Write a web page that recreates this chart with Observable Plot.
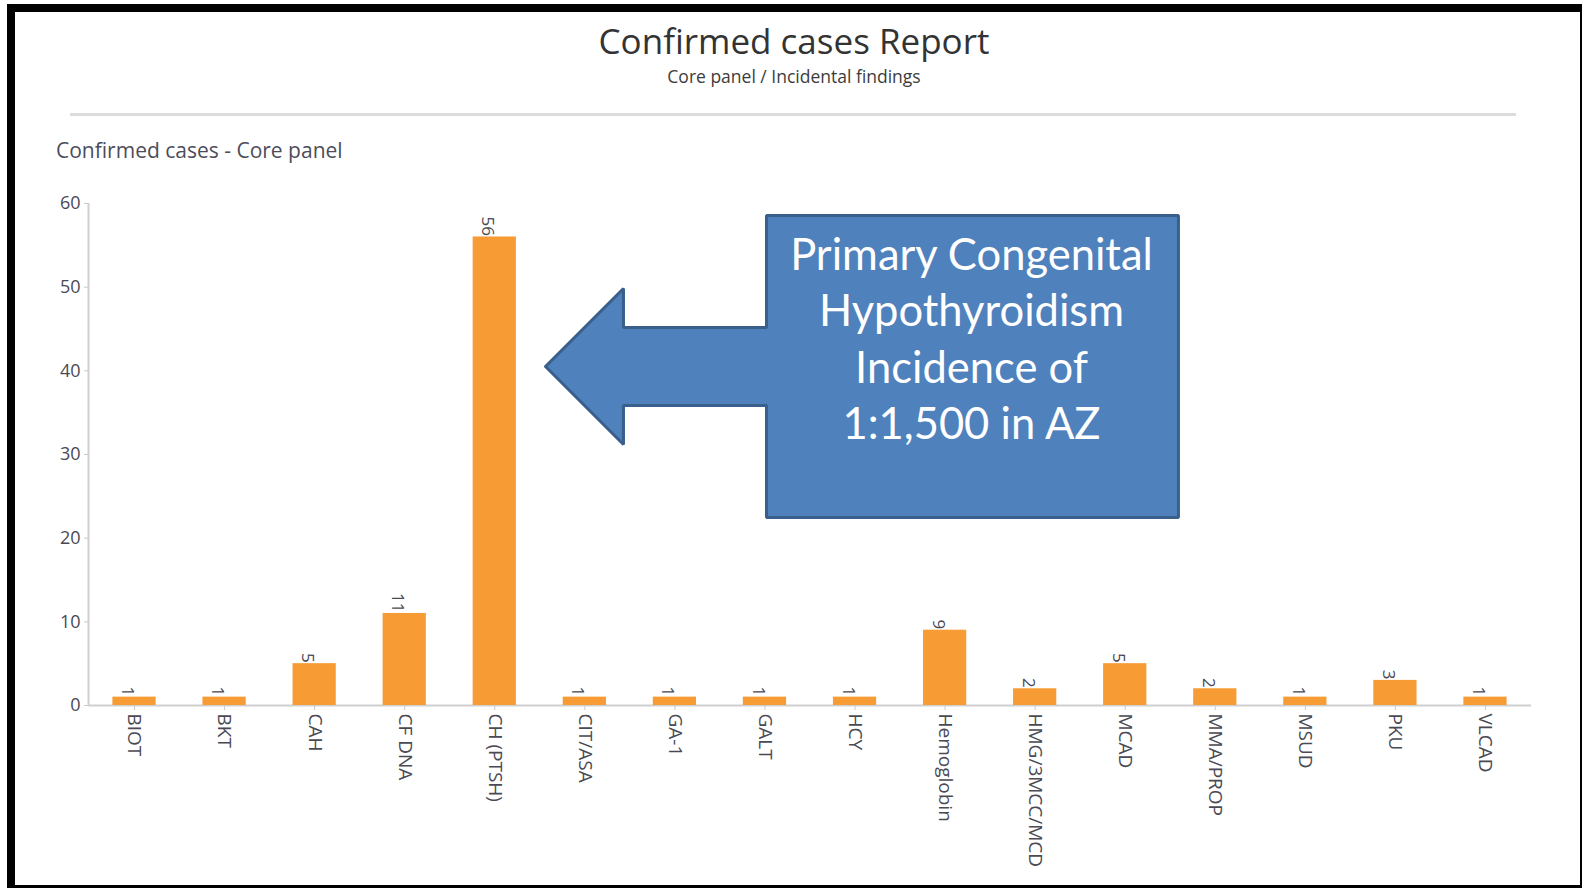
<!DOCTYPE html>
<html><head><meta charset="utf-8">
<script src="https://cdn.jsdelivr.net/npm/d3@7"></script>
<script src="https://cdn.jsdelivr.net/npm/@observablehq/plot@0.6"></script>
<style>
html,body{margin:0;padding:0;background:#fff;}
#page{position:relative;width:1584px;height:890px;overflow:hidden;font-family:"Open Sans",sans-serif;}
#frame{position:absolute;left:7px;top:4px;width:1575px;height:884px;box-sizing:border-box;border-style:solid;border-color:#000;border-width:8px 2px 3px 8px;z-index:3;pointer-events:none;}
#title{position:absolute;left:0;width:1588px;top:19px;line-height:44px;font-size:35px;text-align:center;color:#333;z-index:2;}
#subtitle{position:absolute;left:0;width:1588px;top:65px;line-height:22px;font-size:17.5px;text-align:center;color:#3c3c3c;z-index:2;}
#rule{position:absolute;left:70px;top:113px;width:1446px;height:3px;background:#dcdcdc;z-index:2;}
#heading{position:absolute;left:56px;top:137px;line-height:26px;font-size:21px;color:#4d4d5a;z-index:2;}
#chart{position:absolute;left:0;top:0;z-index:1;}
#chart g[aria-label^="x-axis"] text{font-size:19px;}
#chart g[aria-label^="y-axis"] text{font-size:18px;}
#chart g[aria-label^="x-axis"] line,#chart g[aria-label^="y-axis"] line,
#chart g[aria-label^="x-axis"] path,#chart g[aria-label^="y-axis"] path{stroke:#c8c8c8;}
</style>
</head><body>
<div id="page">
  <div id="frame"></div>
  <div id="title">Confirmed cases Report</div>
  <div id="subtitle">Core panel / Incidental findings</div>
  <div id="rule"></div>
  <div id="heading">Confirmed cases - Core panel</div>
  <div id="chart"></div>
</div>
<script>
// ---- data ----
const categories = ["BIOT","BKT","CAH","CF DNA","CH (PTSH)","CIT/ASA","GA-1","GALT","HCY","Hemoglobin","HMG/3MCC/MCD","MCAD","MMA/PROP","MSUD","PKU","VLCAD"];
const values = [1,1,5,11,56,1,1,1,1,9,2,5,2,1,3,1];
const yTicks = [0,10,20,30,40,50,60];

// callout annotation (x in category-index units, y in case units)
const calloutLines = ["Primary Congenital","Hypothyroidism","Incidence of","1:1,500 in AZ"];
const calloutLineY = [53.71, 47.02, 40.21, 33.51];
const calloutTextX = 9.293;
const calloutX = [4.563, 5.429, 5.429, 7.017, 7.017, 11.591, 11.591, 7.017, 7.017, 5.429, 5.429, 4.563];
const calloutY = [40.52, 49.84, 45.18, 45.18, 58.56, 58.56, 22.47, 22.47, 35.86, 35.86, 31.19, 40.52];

// ---- build ----
const rows = categories.map((c, i) => ({i, category: c, value: values[i]}));
const pts = calloutX.map((x, k) => ({x, y: calloutY[k]}));
const lines = calloutLines.map((t, k) => ({text: t, x: calloutTextX, y: calloutLineY[k]}));
const xMin = -0.511, xMax = 15.511;

const chart = Plot.plot({
  width: 1584, height: 890,
  marginLeft: 88, marginRight: 53, marginTop: 203, marginBottom: 185,
  style: {background: "transparent", fontFamily: "'Open Sans', sans-serif", fontSize: "17px", color: "#4a4a55", overflow: "visible"},
  x: {type: "linear", domain: [xMin, xMax], ticks: d3.range(categories.length), tickFormat: i => categories[i], tickRotate: 90, tickSize: 5, tickPadding: 3, label: null},
  y: {domain: [0, 60], ticks: yTicks, tickSize: 4, tickPadding: 4, label: null},
  marks: [
    Plot.ruleX([xMin], {stroke: "#cfcfcf", strokeWidth: 2}),
    Plot.ruleY([0], {stroke: "#cfcfcf", strokeWidth: 2}),
    Plot.rectY(rows, {x1: d => d.i - 0.24, x2: d => d.i + 0.24, y1: 0, y2: "value", fill: "#f79b35"}),
    Plot.text(rows, {x: "i", y: "value", text: d => String(d.value), rotate: 90, textAnchor: "end", dx: -7, dy: -1, fontSize: 17, fill: "#4a4a55"}),
    Plot.line(pts, {x: "x", y: "y", fill: "#4f81bd", stroke: "#3a5f8b", strokeWidth: 3, strokeLinejoin: "miter"}),
    Plot.text(lines, {x: "x", y: "y", text: "text", fill: "#ffffff", fontSize: 43.5, fontFamily: "Lato, sans-serif"})
  ]
});
document.getElementById("chart").appendChild(chart);
</script>
</body></html>
